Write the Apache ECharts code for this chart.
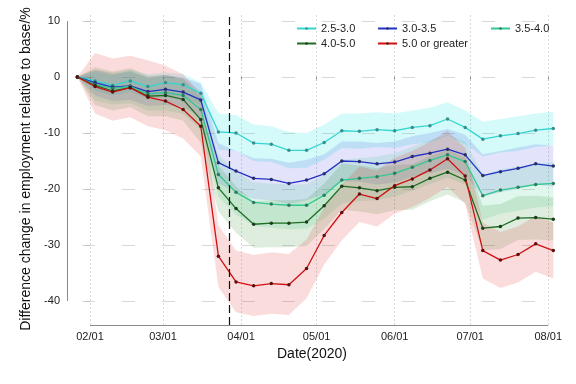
<!DOCTYPE html>
<html><head><meta charset="utf-8">
<script src="https://cdn.jsdelivr.net/npm/echarts@6/dist/echarts.min.js"></script>
<style>html,body{margin:0;padding:0;background:#fff}#c{width:576px;height:384px}</style>
</head><body><div id="c"></div>
<script>
// weekly observation dates, as days since 2020-02-01
const dayOffsets = [-5,2,9,16,23,30,37,44,51,58,65,72,79,86,93,100,107,114,121,128,135,142,149,156,163,170,177,184];
const tickDays = [0,29,60,90,121,151,182];
const tickLabels = ['02/01','03/01','04/01','05/01','06/01','07/01','08/01'];
const yTicks = [10,0,-10,-20,-30,-40];
const lockdownDay = 55.5;

const names = ['2.5-3.0','3.0-3.5','3.5-4.0','4.0-5.0','5.0 or greater'];

const val25 = [0,-0.7,-1.5,-0.7,-1.7,-1.0,-1.4,-2.9,-9.8,-10.0,-11.8,-12.0,-13.1,-13.1,-11.7,-9.6,-9.7,-9.4,-9.6,-9.0,-8.7,-7.5,-9.0,-11.1,-10.5,-10.1,-9.5,-9.2];
const hi25  = [0,1.0,0.3,1.3,0.5,0.8,0.5,-1.0,-6.5,-6.8,-8.5,-8.8,-9.8,-10.0,-8.5,-6.5,-6.5,-6.3,-6.5,-6.0,-5.5,-4.5,-6.0,-8.0,-7.5,-7.0,-6.5,-6.2];
const lo25  = [0,-2.4,-3.3,-2.7,-3.9,-3.2,-3.6,-5.0,-13.0,-13.2,-15.0,-15.2,-16.3,-16.2,-14.8,-12.7,-12.8,-12.5,-12.7,-12.0,-11.7,-10.5,-12.0,-14.2,-13.5,-13.2,-12.5,-12.2];

const val30 = [0,-1.0,-1.8,-1.6,-2.6,-2.2,-2.7,-4.1,-15.3,-16.8,-18.1,-18.3,-19.0,-18.4,-17.3,-15.0,-15.1,-15.5,-15.2,-14.2,-13.6,-12.9,-13.9,-17.6,-16.9,-16.3,-15.5,-15.9];
const hi30  = [0,1.3,0.6,0.9,-0.1,0.4,-0.1,-1.2,-11.8,-13.2,-14.5,-14.6,-15.3,-14.8,-13.8,-11.5,-11.5,-11.8,-11.5,-10.6,-10.0,-9.3,-10.3,-13.8,-13.2,-12.6,-12.0,-12.3];
const lo30  = [0,-3.3,-4.3,-4.1,-5.2,-5.0,-5.4,-7.2,-19.0,-20.5,-21.8,-22.0,-22.7,-22.0,-20.9,-18.6,-18.7,-19.2,-18.9,-17.8,-17.2,-16.4,-17.5,-21.4,-20.6,-20.0,-19.2,-19.6];

const val35 = [0,-1.4,-2.0,-1.7,-3.0,-2.8,-3.3,-5.8,-17.4,-20.6,-22.4,-22.7,-22.9,-22.9,-21.1,-18.4,-18.1,-17.8,-17.2,-16.1,-14.9,-13.9,-15.1,-21.2,-20.2,-19.7,-19.2,-19.0];
const hi35  = [0,1.3,0.8,1.2,-0.2,0.2,-0.3,-2.4,-13.8,-17.0,-18.8,-19.0,-19.2,-19.2,-17.5,-14.8,-14.5,-14.2,-13.6,-12.5,-11.3,-10.3,-11.5,-17.5,-16.5,-16.0,-15.5,-15.2];
const lo35  = [0,-4.2,-4.9,-4.7,-6.0,-6.0,-6.6,-9.4,-21.4,-24.6,-26.5,-26.9,-27.2,-27.1,-25.3,-22.6,-22.2,-22.0,-21.4,-20.3,-19.1,-18.0,-19.2,-25.5,-24.4,-23.9,-23.3,-23.1];

const val40 = [0,-1.5,-2.5,-1.9,-3.4,-3.3,-4.0,-7.6,-19.8,-23.5,-26.3,-26.1,-26.1,-25.9,-23.0,-19.5,-19.8,-20.3,-19.7,-19.6,-18.1,-17.0,-18.4,-27.0,-26.7,-25.2,-25.1,-25.4];
const hi40  = [0,1.8,1.0,1.6,0.2,0.3,-0.3,-3.6,-15.8,-19.5,-22.2,-22.0,-22.0,-21.8,-19.0,-15.5,-15.8,-16.3,-15.7,-15.6,-14.1,-13.0,-14.4,-23.0,-22.7,-21.3,-21.2,-21.5];
const lo40  = [0,-5.0,-6.0,-5.4,-7.0,-7.0,-7.8,-11.8,-24.0,-27.8,-30.5,-30.4,-30.4,-30.2,-27.2,-23.7,-24.0,-24.5,-23.8,-23.7,-22.2,-21.0,-22.4,-31.0,-30.7,-29.1,-29.0,-29.2];

const val50 = [0,-1.7,-2.7,-1.9,-3.6,-4.3,-5.8,-8.8,-32.0,-36.6,-37.3,-36.9,-37.1,-34.2,-28.3,-24.2,-20.9,-21.7,-19.4,-18.2,-16.6,-14.6,-17.7,-31.0,-32.7,-31.7,-29.8,-31.0];
const hi50  = [0,4.3,3.3,3.8,3.0,2.0,0.5,-3.0,-26.5,-31.0,-31.8,-31.3,-31.6,-29.0,-23.3,-19.2,-16.0,-16.7,-14.4,-13.2,-11.6,-9.6,-12.7,-26.0,-27.7,-26.7,-24.8,-26.0];
const lo50  = [0,-6.5,-7.8,-7.2,-8.8,-9.5,-11.0,-14.2,-37.5,-42.0,-42.7,-42.3,-42.5,-39.5,-33.5,-29.2,-25.9,-26.7,-24.4,-23.2,-21.6,-19.6,-22.7,-36.0,-37.7,-36.7,-34.8,-36.0];

const groups = [
  {name:names[0], v:val25, hi:hi25, lo:lo25, line:'#34d6d0', mark:'#3a8f8c', band:'rgba(0,225,225,0.17)'},
  {name:names[1], v:val30, hi:hi30, lo:lo30, line:'#2233c4', mark:'#2a2f6a', band:'rgba(60,60,225,0.14)'},
  {name:names[2], v:val35, hi:hi35, lo:lo35, line:'#30c890', mark:'#2f7a60', band:'rgba(40,200,130,0.15)'},
  {name:names[3], v:val40, hi:hi40, lo:lo40, line:'#1d6e22', mark:'#1c3d1e', band:'rgba(30,125,30,0.14)'},
  {name:names[4], v:val50, hi:hi50, lo:lo50, line:'#d01010', mark:'#5a1010', band:'rgba(230,40,40,0.16)'}
];

const X_MIN = -9.13, X_MAX = 185.47, Y_MIN = -44.29, Y_MAX = 11.43;
const FONT = "'Liberation Sans', Arial, sans-serif";
const pairs = arr => arr.map((y, i) => [dayOffsets[i], y]);

const series = [];
// grid lines and trimmed spines
series.push({
  type:'line', data:[], silent:true, z:1,
  markLine:{
    silent:true, symbol:'none', z:1, animation:false, label:{show:false},
    data:[
      ...yTicks.map(v => ({yAxis:v, lineStyle:{color:'#cfcfcf', width:0.8, type:[13,27], dashOffset:25}})),
      ...tickDays.map(v => ({xAxis:v, lineStyle:{color:'#cfcfcf', width:0.8, type:[2,2]}})),
      [{coord:[X_MIN, yTicks[0]], lineStyle:{color:'#8a8a8a', width:1, type:'solid'}}, {coord:[X_MIN, yTicks[yTicks.length-1]]}],
      [{coord:[tickDays[0], Y_MIN], lineStyle:{color:'#8a8a8a', width:1, type:'solid'}}, {coord:[tickDays[tickDays.length-1], Y_MIN]}]
    ]
  }
});
// confidence bands as polygons
groups.forEach((g, k) => {
  series.push({
    type:'custom', name:'band'+k, coordinateSystem:'cartesian2d', data:[[dayOffsets[0], g.v[0]]],
    silent:true, z:2, clip:true,
    renderItem:(params, api) => {
      const up = dayOffsets.map((d, i) => api.coord([d, g.hi[i]]));
      const dn = dayOffsets.map((d, i) => api.coord([d, g.lo[i]])).reverse();
      return {type:'polygon', shape:{points:up.concat(dn)}, style:{fill:g.band, stroke:null}};
    }
  });
});
// lines
groups.forEach(g => {
  series.push({
    type:'line', name:g.name, data:pairs(g.v), symbol:'circle', symbolSize:3.5, showSymbol:true,
    lineStyle:{color:g.line, width:1.3}, itemStyle:{color:g.mark, borderWidth:0}, z:3
  });
});
// vertical dashed reference line
series.push({
  type:'line', data:[], silent:true, z:4,
  markLine:{silent:true, symbol:'none', z:4, animation:false, label:{show:false},
    data:[{xAxis:lockdownDay, lineStyle:{color:'#111', width:1.2, type:[8,4]}}]}
});

const legendBase = {
  orient:'vertical', top:22, padding:0, itemGap:2, itemWidth:19, itemHeight:3, itemTextGap:8,
  textStyle:{fontFamily:FONT, fontSize:11, color:'#222', lineHeight:13}, selectedMode:false
};

const option = {
  animation:false,
  backgroundColor:'#fff',
  grid:{left:67, right:19, top:13, bottom:59},
  legend:[
    Object.assign({}, legendBase, {left:296, data:[names[0], names[3]]}),
    Object.assign({}, legendBase, {left:377, data:[names[1], names[4]]}),
    Object.assign({}, legendBase, {left:490, data:[names[2]]})
  ],
  xAxis:{
    type:'value', min:X_MIN, max:X_MAX,
    name:'Date(2020)', nameLocation:'middle', nameGap:21,
    nameTextStyle:{fontFamily:FONT, fontSize:14, color:'#111'},
    axisLine:{show:false},
    axisTick:{show:true, customValues:tickDays, length:4, lineStyle:{color:'#8a8a8a'}},
    axisLabel:{customValues:tickDays, margin:6, fontFamily:FONT, fontSize:11, color:'#222',
      formatter:v => tickLabels[tickDays.indexOf(Math.round(v))]},
    splitLine:{show:false}
  },
  yAxis:{
    type:'value', min:Y_MIN, max:Y_MAX,
    name:'Difference change in employment relative to base/%', nameLocation:'middle', nameGap:25,
    nameTextStyle:{fontFamily:FONT, fontSize:14, color:'#111'},
    axisLine:{show:false},
    axisTick:{show:true, customValues:yTicks, length:5, lineStyle:{color:'#8a8a8a'}},
    axisLabel:{customValues:yTicks, margin:7, fontFamily:FONT, fontSize:11, color:'#222'},
    splitLine:{show:false}
  },
  series:series
};
echarts.init(document.getElementById('c'), null, {renderer:'canvas'}).setOption(option);
</script></body></html>
